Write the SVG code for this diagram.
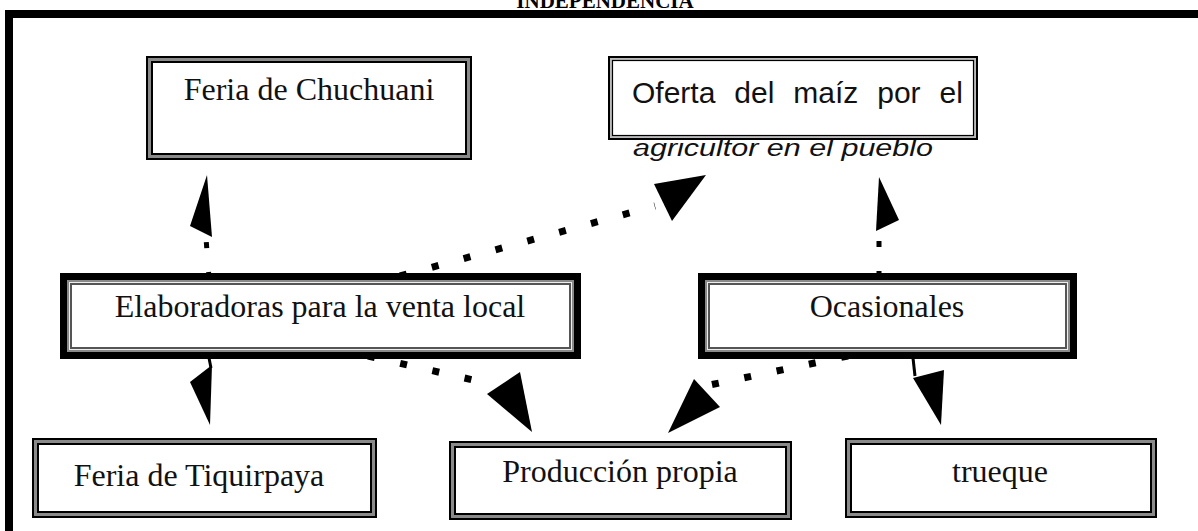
<svg xmlns="http://www.w3.org/2000/svg" width="1198" height="531" viewBox="0 0 1198 531">
<style>
.t{font-family:"Liberation Serif","Times New Roman",serif;font-size:32px;fill:#111;text-anchor:middle}
.o{fill:#8a8a8a;stroke:#000;stroke-width:2}
.i{fill:#fff;stroke:#000;stroke-width:2}
.dl{stroke:#000;fill:none;stroke-width:7;stroke-dasharray:7 26}
.vl{stroke:#000;fill:none;stroke-width:5;stroke-dasharray:6 24}
.sl{stroke:#000;fill:none;stroke-width:3}
.ah{fill:#000}
</style>
<rect width="1198" height="531" fill="#fff"/>
<g id="frame">
<rect x="5" y="10" width="8" height="521" fill="#000"/>
<rect x="5" y="10" width="1193" height="8" fill="#000"/>
<text x="605" y="8" font-family="Liberation Serif, serif" font-weight="bold" font-size="21" text-anchor="middle" fill="#000">INDEPENDENCIA</text>
</g>
<g id="n-chuchuani">
<rect class="o" x="147" y="57" width="324" height="102"/>
<rect class="i" x="152" y="62" width="314" height="92"/>
<text class="t" x="309" y="100">Feria de Chuchuani</text>
</g>
<g id="n-oferta">
<text x="633" y="156" font-family="Liberation Sans, Arial, sans-serif" font-style="italic" font-size="23" fill="#111" textLength="300" lengthAdjust="spacingAndGlyphs">agricultor en el pueblo</text>
<rect x="609" y="57" width="368" height="82" fill="#bbb" stroke="#000" stroke-width="2"/>
<rect x="612.5" y="60.5" width="361" height="75" fill="#fff" stroke="#000" stroke-width="1.2"/>
<text x="632" y="103" font-family="Liberation Sans, Arial, sans-serif" font-size="30" fill="#111" word-spacing="10.6">Oferta del maíz por el</text>
</g>
<g id="n-elaboradoras">
<rect x="60" y="273" width="521" height="86" fill="#000"/>
<rect x="67" y="280" width="507" height="72" fill="#8a8a8a"/>
<rect x="69" y="282" width="503" height="68" fill="#eee"/>
<rect x="70" y="283" width="501" height="66" fill="#555"/>
<rect x="72" y="285" width="497" height="62" fill="#fff"/>
<text class="t" x="320" y="317">Elaboradoras para la venta local</text>
</g>
<g id="n-ocasionales">
<rect x="698" y="273" width="379" height="86" fill="#000"/>
<rect x="705" y="280" width="365" height="72" fill="#8a8a8a"/>
<rect x="707" y="282" width="361" height="68" fill="#eee"/>
<rect x="708" y="283" width="359" height="66" fill="#555"/>
<rect x="710" y="285" width="355" height="62" fill="#fff"/>
<text class="t" x="887" y="317">Ocasionales</text>
</g>
<g id="n-tiquirpaya">
<rect class="o" x="33" y="439" width="343" height="78"/>
<rect class="i" x="38" y="444" width="333" height="68"/>
<text class="t" x="199" y="486">Feria de Tiquirpaya</text>
</g>
<g id="n-produccion">
<rect class="o" x="450" y="442" width="341" height="77"/>
<rect class="i" x="455" y="447" width="331" height="67"/>
<text class="t" x="620" y="482">Producción propia</text>
</g>
<g id="n-trueque">
<rect class="o" x="846" y="439" width="310" height="78"/>
<rect class="i" x="851" y="444" width="300" height="68"/>
<text class="t" x="1000" y="482">trueque</text>
</g>
<g id="connectors">
<line class="vl" x1="209" y1="278" x2="206" y2="238"/>
<polygon class="ah" points="207,175 190,226 212,237"/>
<line class="dl" x1="400" y1="276" x2="655" y2="206"/>
<polygon class="ah" points="706,175 654,184 672,221"/>
<line class="sl" x1="209" y1="358" x2="211" y2="368"/>
<polygon class="ah" points="212,365 190,382 210,425"/>
<line class="dl" x1="368" y1="356" x2="482" y2="382"/>
<polygon class="ah" points="487,394 520,372 532,432"/>
<line class="dl" x1="848" y1="356" x2="705" y2="386"/>
<polygon class="ah" points="694,379 720,407 668,433"/>
<line class="vl" x1="879" y1="277" x2="879" y2="232"/>
<polygon class="ah" points="879,177 876,231 899,220"/>
<line class="sl" x1="913" y1="358" x2="915" y2="376"/>
<polygon class="ah" points="913,378 944,370 941,425"/>
</g>
</svg>
